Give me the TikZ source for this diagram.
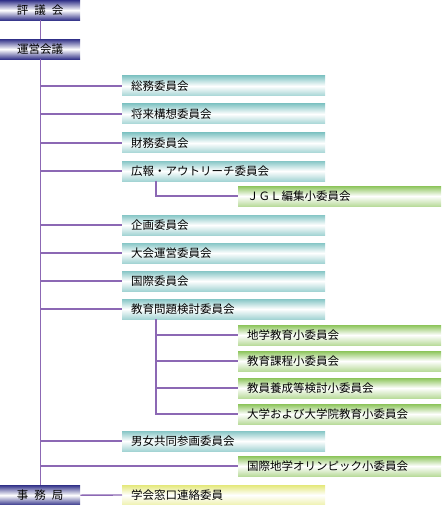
\documentclass[tikz,border=0pt]{standalone}
\usepackage{fontspec}
\setmainfont{Noto Sans CJK JP}
\definecolor{kon}{HTML}{34348A}
\definecolor{ao}{HTML}{86C6C6}
\definecolor{midori}{HTML}{8CC45A}
\definecolor{kiiro}{HTML}{E4E87A}
\definecolor{murasaki}{HTML}{8C68B4}
\tikzset{
  kaigi/.style={anchor=north west,minimum width=80pt,minimum height=20pt,inner sep=0pt,
    top color=kon,bottom color=kon,middle color=white,font=\fontsize{11.5}{13}\selectfont},
  kasten/.style={anchor=west,text width=185pt,inner xsep=9pt,inner ysep=0pt,minimum height=20pt,
    align=left,font=\fontsize{11.5}{13}\selectfont},
  iin/.style={kasten,top color=ao,bottom color=ao!75,middle color=white},
  shoiin/.style={kasten,top color=midori,bottom color=midori!60,middle color=white},
  mado/.style={kasten,top color=kiiro,bottom color=kiiro!60,middle color=white},
  sen/.style={murasaki,line width=1.4pt},
}
\begin{document}
\begin{tikzpicture}[x=1pt,y=-1pt]
  \useasboundingbox (0,0) rectangle (442,505);
  \node[kaigi] (hyogi) at (0,0) {評\hspace{6pt}議\hspace{6pt}会};
  \node[kaigi] (unei) at (0,39) {運営会議};
  \node[kaigi] (jimu) at (0,485) {事\hspace{6pt}務\hspace{6pt}局};
  \node[iin] (soumu) at (122,86) {総務委員会};
  \node[iin] (shourai) at (122,114) {将来構想委員会};
  \node[iin] (zaimu) at (122,143) {財務委員会};
  \node[iin] (koho) at (122,171) {広報・アウトリーチ委員会};
  \node[shoiin] (jgl) at (238,196) {ＪＧＬ編集小委員会};
  \node[iin] (kikaku) at (122,225) {企画委員会};
  \node[iin] (taikai) at (122,253) {大会運営委員会};
  \node[iin] (kokusai) at (122,281) {国際委員会};
  \node[iin] (kyoiku) at (122,309) {教育問題検討委員会};
  \node[shoiin] (chigaku) at (238,335) {地学教育小委員会};
  \node[shoiin] (katei) at (238,361) {教育課程小委員会};
  \node[shoiin] (yosei) at (238,388) {教員養成等検討小委員会};
  \node[shoiin] (daigaku) at (238,414) {大学および大学院教育小委員会};
  \node[iin] (danjo) at (122,441) {男女共同参画委員会};
  \node[shoiin] (olympic) at (238,466) {国際地学オリンピック小委員会};
  \node[mado] (madoguchi) at (122,495) {学会窓口連絡委員};
  \draw[sen] (hyogi.south) -- (unei.north);
  \draw[sen] (unei.south) -- (jimu.north);
  \foreach \n in {soumu,shourai,zaimu,koho,kikaku,taikai,kokusai,kyoiku,danjo,olympic}
    \draw[sen] (\n.west -| unei.south) -- (\n.west);
  \coordinate (kohoT) at (156,181);
  \draw[sen] (kohoT) |- (jgl.west);
  \coordinate (kyoikuT) at (156,319);
  \draw[sen] (kyoikuT) |- (daigaku.west);
  \foreach \n in {chigaku,katei,yosei}
    \draw[sen] (\n.west -| kyoikuT) -- (\n.west);
  \draw[sen] (jimu.east) -- (madoguchi.west);
\end{tikzpicture}
\end{document}
